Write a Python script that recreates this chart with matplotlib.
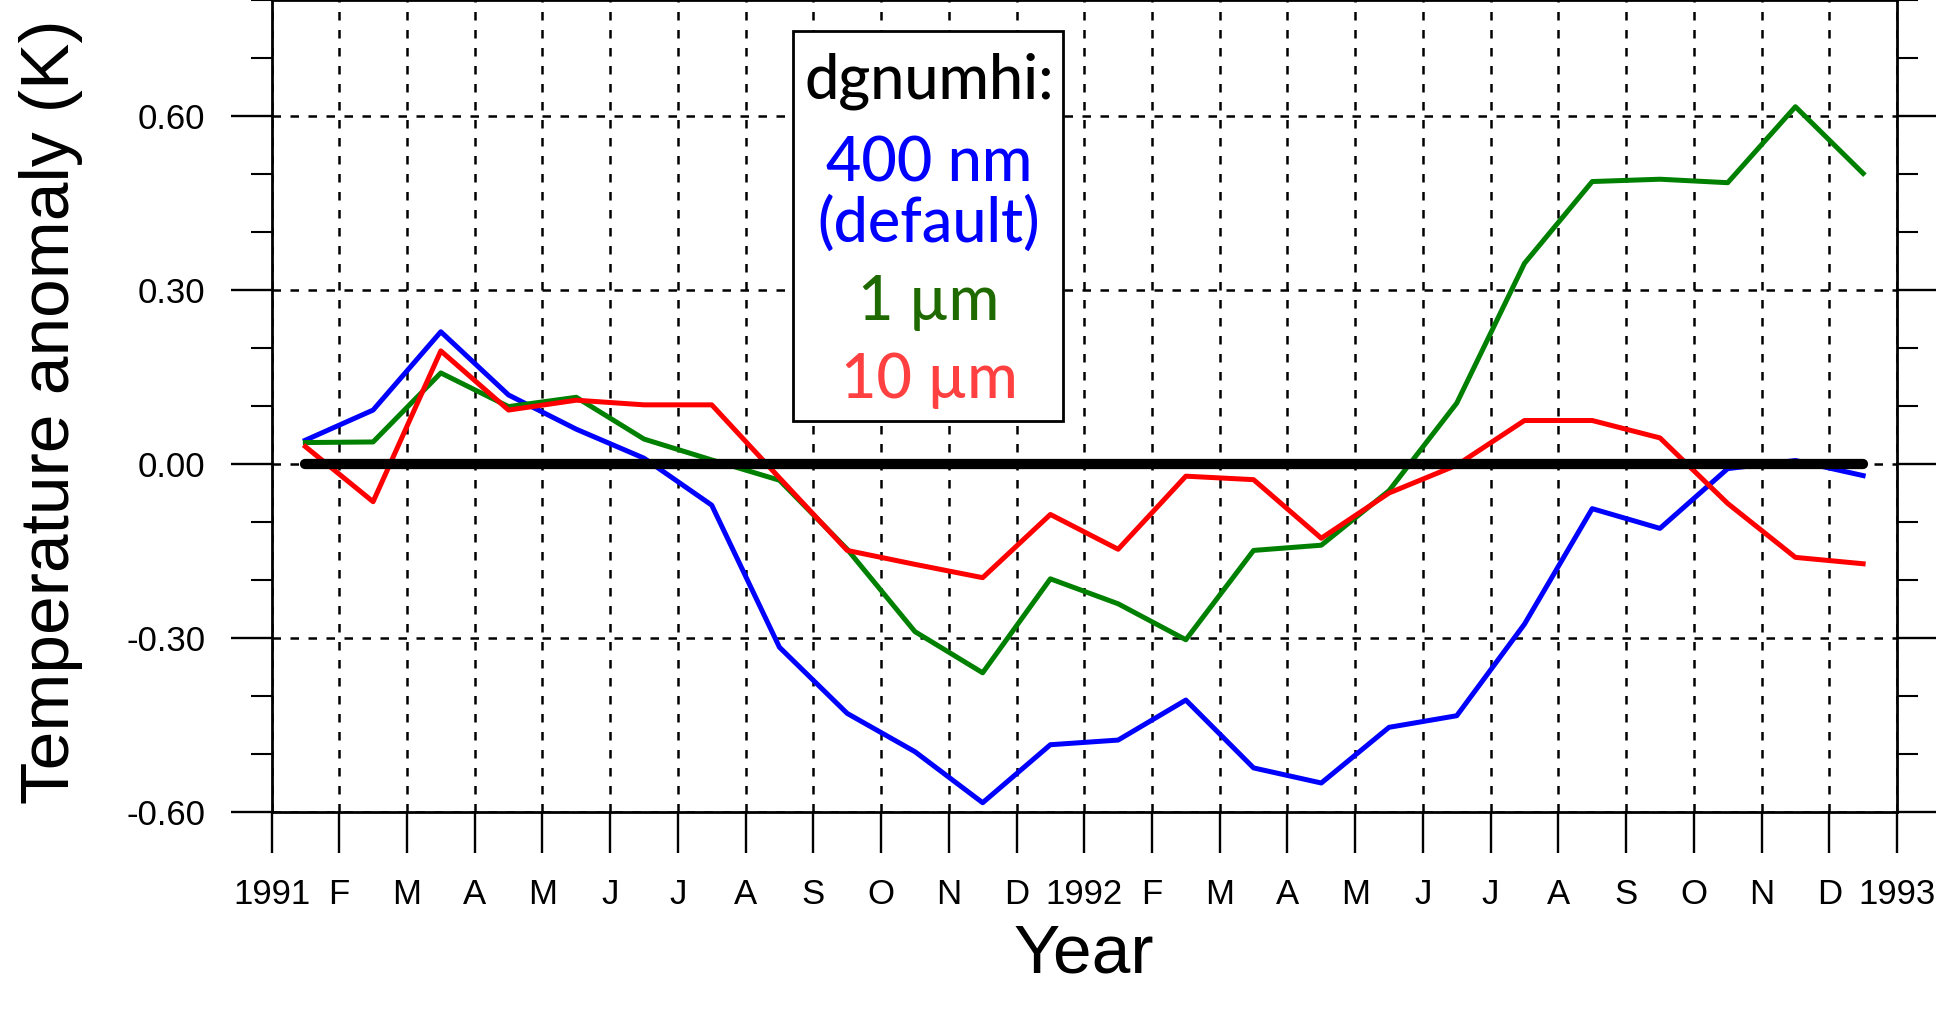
import numpy as np
import matplotlib.pyplot as plt
from matplotlib.ticker import MultipleLocator

# month tick labels, Jan 1991 .. Jan 1993
month_labels = ['1991', 'F', 'M', 'A', 'M', 'J', 'J', 'A', 'S', 'O', 'N', 'D',
                '1992', 'F', 'M', 'A', 'M', 'J', 'J', 'A', 'S', 'O', 'N', 'D', '1993']
ytick_vals = [-0.6, -0.3, 0.0, 0.3, 0.6]
ytick_labels = ['-0.60', '-0.30', '0.00', '0.30', '0.60']

# monthly mean temperature anomaly (K) for each dgnumhi setting
t_400nm = [0.041, 0.093, 0.228, 0.119, 0.060, 0.010, -0.071, -0.316, -0.430, -0.496, -0.584, -0.484,
           -0.476, -0.407, -0.524, -0.550, -0.454, -0.434, -0.276, -0.077, -0.111, -0.008, 0.006, -0.020]
t_1um = [0.037, 0.038, 0.157, 0.099, 0.115, 0.043, 0.007, -0.028, -0.147, -0.289, -0.360, -0.198,
         -0.241, -0.303, -0.149, -0.140, -0.046, 0.105, 0.346, 0.487, 0.491, 0.485, 0.616, 0.501]
t_10um = [0.030, -0.065, 0.195, 0.093, 0.110, 0.102, 0.102, -0.024, -0.149, -0.173, -0.196, -0.087,
          -0.147, -0.021, -0.027, -0.128, -0.050, -0.002, 0.075, 0.075, 0.045, -0.068, -0.161, -0.172]
zero_ref = np.zeros(len(t_400nm))

x = np.arange(len(t_400nm)) + 0.5  # mid-month, in months since Jan 1991

tick_font = ['Liberation Sans Narrow', 'Liberation Sans']
label_font = ['Liberation Sans', 'DejaVu Sans']
box_font = ['Lato', 'DejaVu Sans']

fig = plt.figure(figsize=(19.36, 10.09), dpi=100)
ax = fig.add_axes([271.5/1936, 1 - 812/1009, 1625.5/1936, 812/1009])

ax.plot(x, t_400nm, color='#0000ff', lw=3.6, zorder=3)
ax.plot(x, t_1um, color='#008000', lw=3.6, zorder=3)
ax.plot(x, t_10um, color='#ff0000', lw=3.6, zorder=3)
ax.plot(x, zero_ref, color='k', lw=7.4, solid_capstyle='round', zorder=4)

ax.set_xlim(0, 24)
ax.set_ylim(-0.6, 0.8)
ax.set_xticks(np.arange(len(month_labels)))
ax.set_xticklabels(month_labels, family=tick_font, fontsize=25)
ax.set_yticks(ytick_vals)
ax.set_yticklabels(ytick_labels, family=tick_font, fontsize=25)
ax.yaxis.set_minor_locator(MultipleLocator(0.1))

ax.tick_params(which='major', direction='out', length=29.5, width=1.7, pad=18)
ax.tick_params(axis='y', which='both', left=True, right=True)
ax.tick_params(which='minor', direction='out', length=15, width=1.5)
for s in ax.spines.values():
    s.set_linewidth(2.0)

ax.grid(True, which='major', color='k', lw=1.8, ls=(0, (3.4, 3.8)), zorder=1)
ax.set_axisbelow(True)

ax.set_xlabel('Year', family=label_font, fontsize=50)
ax.xaxis.set_label_coords(0.5, -0.136)
ax.set_ylabel('Temperature anomaly (K)', family=label_font, fontsize=50)
ax.yaxis.set_label_coords(-0.116, 0.4926)

# text box naming the runs
box = plt.Rectangle((0.3208, 0.4815), 0.4869 - 0.3208, 0.9618 - 0.4815, transform=ax.transAxes,
                    facecolor='white', edgecolor='k', lw=2.0, zorder=5)
ax.add_patch(box)
bx = 0.4045
box_fs = 44
box_lines = [('dgnumhi:', 'k', 0.8793),
             ('400 nm', '#0000ff', 0.7759),
             ('(default)', '#0000ff', 0.7020),
             ('1 µm', '#1f6a00', 0.6059),
             ('10 µm', '#ff4040', 0.5099)]
for txt, col, yb in box_lines:
    ax.text(bx, yb, txt, color=col, family=box_font, fontsize=box_fs, fontweight='medium',
            ha='center', va='baseline', transform=ax.transAxes, zorder=6)

fig.savefig('out.png', dpi=100)
